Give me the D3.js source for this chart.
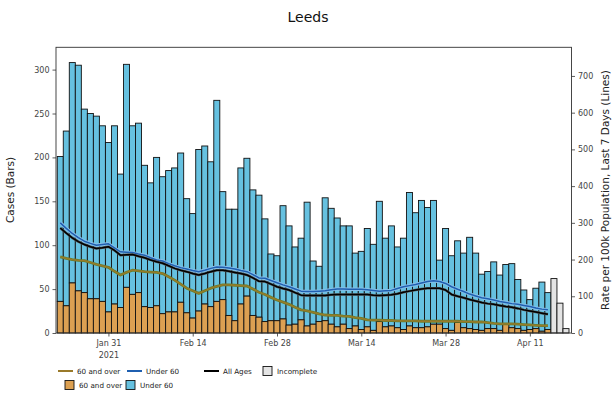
<!DOCTYPE html>
<html><head><meta charset="utf-8">
<script src="https://cdn.jsdelivr.net/npm/d3@7"></script>
<style>
body{margin:0;background:#fff}
text{font-family:"DejaVu Sans",sans-serif}
</style>
</head><body>
<svg id="chart" width="615" height="397"></svg>
<script>
// Daily cases by age band, Leeds, from 23 Jan 2021
const startDate = "2021-01-23";
const over60Cases = [36,31,57,48,46,39,39,36,24,33,29,52,44,46,30,29,31,22,24,24,
  35,23,17,25,33,30,36,38,20,14,33,42,20,18,13,14,14,16,9,10,
  15,8,10,13,14,10,7,10,5,8,4,7,3,13,7,8,6,4,8,6,
  6,7,10,10,5,3,12,6,5,4,3,5,5,3,10,6,5,3,4,5,2,4];
const under60Cases = [165,199,251,257,209,211,208,200,193,203,152,254,192,193,161,142,169,156,161,164,
  170,130,119,184,180,165,229,123,121,127,155,157,143,139,117,76,74,129,113,88,
  93,141,72,63,140,132,124,112,117,83,89,112,98,137,101,114,92,104,152,131,
  145,136,141,73,114,85,93,85,104,87,64,65,76,63,68,73,56,46,34,46,56,42];
// Most recent days, still being reported
const incompleteCases = [62,34,5];

// Rate per 100k population over the last 7 days
const rate60Plus = [207,203,200,198,197,192,187,183,179,168,158,165,171,169,167,166,165,162,153,144,
  133,122,115,108,115,122,127,131,131,130,129,128,120,111,105,97,90,84,78,70,
  63,60,56,52,49,48,48,46,45,42,40,36,35,35,34,34,33,33,33,33,
  32,32,32,32,32,32,32,31,31,30,30,28,26,25,25,25,24,23,22,21,20,20];
const rateUnder60 = [300,285,271,260,250,244,239,241,243,232,221,220,219,215,212,205,199,196,189,183,
  178,174,170,167,171,176,180,179,177,174,170,167,159,150,149,143,137,131,126,120,
  114,113,113,114,115,118,120,120,119,119,119,118,116,114,115,116,121,126,129,132,
  136,140,142,140,135,126,119,113,106,101,96,93,90,86,83,80,78,75,72,68,65,63];
const rateAll = [286,272,259,249,241,235,230,232,235,225,212,213,214,209,205,199,194,190,183,176,
  171,167,162,158,162,167,171,171,168,165,162,158,150,141,140,133,126,121,117,110,
  103,102,102,102,102,104,105,105,105,105,105,105,103,102,103,104,107,111,114,117,
  120,122,122,122,117,105,100,96,91,87,83,80,78,75,72,70,67,63,60,57,54,51];

const leftTicks = [0,50,100,150,200,250,300];
const rightTicks = [0,100,200,300,400,500,600,700];
const xTickDates = ["2021-01-31","2021-02-14","2021-02-28","2021-03-14","2021-03-28","2021-04-11"];
const xTickLabels = ["Jan 31","Feb 14","Feb 28","Mar 14","Mar 28","Apr 11"];

const colOrange = "#dca052", colBlue = "#66c1e0", colIncomplete = "#e4e4e4";
const colLine60 = "#9a7a2a", colLineU60 = "#1f5fb0", colLineAll = "#000";

const svg = d3.select("#chart");
const L = 56, R = 571.5, T = 47.3, B = 333;

const parse = d3.utcParse("%Y-%m-%d");
const start = parse(startDate);
const nDays = over60Cases.length + incompleteCases.length;
const days = d3.utcDay.range(start, d3.utcDay.offset(start, nDays));
const lastDay = days[days.length - 1];

const x = d3.scaleUtc()
  .domain([d3.utcHour.offset(start, -16.6), d3.utcHour.offset(lastDay, 22.6)])
  .range([L, R]);
const yL = d3.scaleLinear().domain([0, 325.4]).range([B, T]);
const yR = d3.scaleLinear().domain([0, 778]).range([B, T]);

const barX0 = d => x(d3.utcHour.offset(d, -12));
const barX1 = d => x(d3.utcHour.offset(d, 12));

const complete = over60Cases.map((o, i) => ({d: days[i], o, u: under60Cases[i]}));
const partial = incompleteCases.map((v, i) => ({d: days[over60Cases.length + i], v}));

const bars = svg.append("g").attr("stroke", "#111").attr("stroke-width", 0.9);
bars.selectAll("rect.u").data(complete).join("rect")
  .attr("x", d => barX0(d.d)).attr("width", d => barX1(d.d) - barX0(d.d))
  .attr("y", d => yL(d.o + d.u)).attr("height", d => yL(d.o) - yL(d.o + d.u))
  .attr("fill", colBlue);
bars.selectAll("rect.o").data(complete).join("rect")
  .attr("x", d => barX0(d.d)).attr("width", d => barX1(d.d) - barX0(d.d))
  .attr("y", d => yL(d.o)).attr("height", d => yL(0) - yL(d.o))
  .attr("fill", colOrange);
bars.selectAll("rect.p").data(partial).join("rect")
  .attr("x", d => barX0(d.d)).attr("width", d => barX1(d.d) - barX0(d.d))
  .attr("y", d => yL(d.v)).attr("height", d => yL(0) - yL(d.v))
  .attr("fill", colIncomplete);

// 7-day rate lines on the right axis
const line = d3.line().x((v, i) => x(days[i])).y(v => yR(v)).curve(d3.curveLinear);
function drawLine(values, halo, haloW, core, coreW) {
  svg.append("path").attr("d", line(values)).attr("fill", "none")
    .attr("stroke", halo).attr("stroke-width", haloW).attr("stroke-linejoin", "round");
  svg.append("path").attr("d", line(values)).attr("fill", "none")
    .attr("stroke", core).attr("stroke-width", coreW).attr("stroke-linejoin", "round");
}
drawLine(rate60Plus, "#6a7d2a", 2.8, colLine60, 1.3);
drawLine(rateUnder60, "#86bfe8", 3.4, colLineU60, 1.5);
drawLine(rateAll, "#555", 2.5, colLineAll, 1.5);

// Frame
svg.append("rect").attr("x", L).attr("y", T).attr("width", R - L).attr("height", B - T)
  .attr("fill", "none").attr("stroke", "#333").attr("stroke-width", 0.9);

// Axes
const tickCol = "#444";
const axL = d3.axisLeft(yL).tickValues(leftTicks).tickSize(3.5).tickPadding(3);
const gL = svg.append("g").attr("transform", `translate(${L},0)`).call(axL);
const axR = d3.axisRight(yR).tickValues(rightTicks).tickSize(3.5).tickPadding(3);
const gR = svg.append("g").attr("transform", `translate(${R},0)`).call(axR);
const axB = d3.axisBottom(x).tickValues(xTickDates.map(parse))
  .tickFormat((d, i) => xTickLabels[i]).tickSize(3.5).tickPadding(4);
const gB = svg.append("g").attr("transform", `translate(0,${B})`).call(axB);
[gL, gR, gB].forEach(g => {
  g.select(".domain").remove();
  g.selectAll(".tick line").attr("stroke", "#333").attr("stroke-width", 0.8);
  g.selectAll(".tick text").attr("fill", tickCol).attr("font-size", 8)
    .attr("font-family", "DejaVu Sans, sans-serif");
});
gB.selectAll(".tick").filter((d, i) => i === 0).append("text")
  .attr("y", 19).attr("dy", "0.71em").attr("fill", tickCol).attr("font-size", 8)
  .attr("text-anchor", "middle").attr("font-family", "DejaVu Sans, sans-serif").text("2021");

// Titles
svg.append("text").attr("x", 308).attr("y", 22).attr("text-anchor", "middle")
  .attr("font-size", 14).attr("fill", "#111").text("Leeds");
svg.append("text").attr("transform", "translate(14,190) rotate(-90)")
  .attr("text-anchor", "middle").attr("font-size", 10.5).attr("fill", "#222").text("Cases (Bars)");
svg.append("text").attr("transform", "translate(609,190) rotate(-90)")
  .attr("text-anchor", "middle").attr("font-size", 10.5).attr("fill", "#222")
  .text("Rate per 100k Population, Last 7 Days (Lines)");

// Legend
const lg = svg.append("g").attr("font-size", 7.2).attr("fill", "#222");
const row1 = 371, row2 = 385;
const lineItems = [
  {x: 58, c: colLine60, t: "60 and over"},
  {x: 127, c: colLineU60, t: "Under 60"},
  {x: 204, c: colLineAll, t: "All Ages"}
];
lineItems.forEach(it => {
  lg.append("line").attr("x1", it.x).attr("x2", it.x + 15).attr("y1", row1).attr("y2", row1)
    .attr("stroke", it.c).attr("stroke-width", 2);
  lg.append("text").attr("x", it.x + 19).attr("y", row1).attr("dy", "0.35em").text(it.t);
});
const boxItems = [
  {x: 263, y: row1, c: colIncomplete, t: "Incomplete"},
  {x: 65, y: row2, c: colOrange, t: "60 and over"},
  {x: 126, y: row2, c: colBlue, t: "Under 60"}
];
boxItems.forEach(it => {
  lg.append("rect").attr("x", it.x).attr("y", it.y - 4.5).attr("width", 9).attr("height", 9)
    .attr("fill", it.c).attr("stroke", "#111").attr("stroke-width", 0.9);
  lg.append("text").attr("x", it.x + 14).attr("y", it.y).attr("dy", "0.35em").text(it.t);
});
</script>
</body></html>
